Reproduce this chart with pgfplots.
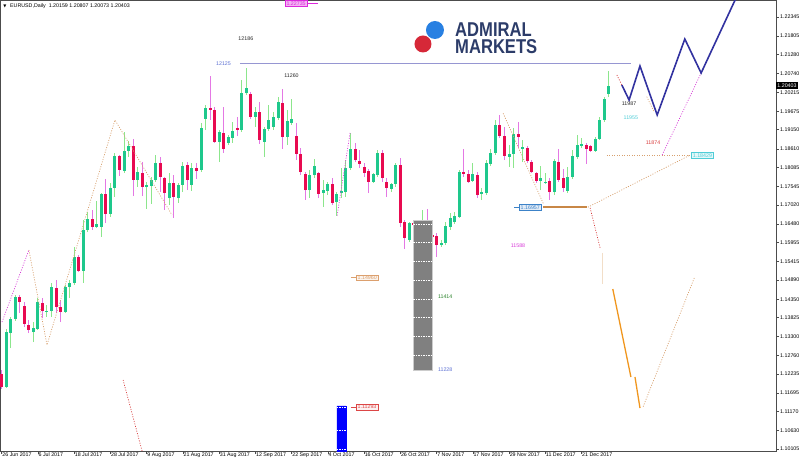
\documentclass[border=0pt]{standalone}
\usepackage{fontspec}
\setmainfont{Liberation Sans}
\newfontfamily\dejavu{DejaVu Sans}
\usepackage{pgfplots}
\pgfplotsset{compat=1.18}
\usepackage{pgfplotstable}

\definecolor{bullbody}{RGB}{30,200,140}
\definecolor{bullwick}{RGB}{140,230,140}
\definecolor{bearbody}{RGB}{232,10,80}
\definecolor{bearwick}{RGB}{228,120,228}
\definecolor{lineblue}{RGB}{150,150,210}
\definecolor{navyz}{RGB}{50,50,160}
\definecolor{peruL}{RGB}{200,135,70}
\definecolor{orangeL}{RGB}{240,150,30}
\definecolor{wheatL}{RGB}{242,222,200}
\definecolor{tanD}{RGB}{215,160,110}
\definecolor{redD}{RGB}{215,60,60}
\definecolor{magD}{RGB}{215,60,215}
\definecolor{logoblue}{RGB}{40,128,226}
\definecolor{logored}{RGB}{214,40,56}
\definecolor{logonavy}{RGB}{44,60,105}
\definecolor{lblblue}{RGB}{90,110,210}
\definecolor{lblgreen}{RGB}{40,130,40}
\definecolor{lblcyan}{RGB}{80,205,215}
\definecolor{boxblue}{RGB}{60,130,200}
\definecolor{boxtan}{RGB}{220,160,110}
\definecolor{boxred}{RGB}{220,70,70}
\definecolor{boxmag}{RGB}{220,40,220}

\newcommand\sm{\fontsize{5.3}{6}\selectfont}

% EURUSD daily candles, bar index n (0 = 26 Jun 2017)
\pgfplotstableread{
n o h l c
1 1.11864 1.13506 1.11835 1.13421
2 1.13393 1.13847 1.12968 1.13790
3 1.13790 1.14469 1.13733 1.14413
7 1.13421 1.13704 1.13138 1.13534
8 1.13506 1.14384 1.13478 1.14271
10 1.13988 1.14186 1.13847 1.14017
11 1.14017 1.14810 1.13847 1.14697
14 1.13988 1.14753 1.13960 1.14697
15 1.14697 1.14895 1.14384 1.14810
16 1.14810 1.15830 1.14753 1.15547
18 1.15150 1.16594 1.14810 1.16311
19 1.16311 1.16821 1.16254 1.16623
21 1.16396 1.17133 1.16367 1.16481
22 1.16396 1.17359 1.16113 1.17331
24 1.16765 1.17643 1.16680 1.17501
25 1.17501 1.18493 1.17246 1.18408
27 1.17983 1.19087 1.17926 1.18550
28 1.18550 1.18833 1.18380 1.18691
30 1.17728 1.18096 1.17530 1.17954
32 1.17530 1.17671 1.16906 1.17586
33 1.17558 1.17813 1.17048 1.17728
34 1.17728 1.18436 1.17671 1.18209
37 1.17217 1.17926 1.17019 1.17643
39 1.17217 1.17643 1.17076 1.17586
40 1.17586 1.18237 1.17387 1.18124
42 1.17586 1.18209 1.17416 1.18067
44 1.18011 1.19343 1.17954 1.19201
45 1.19456 1.19852 1.19144 1.19767
48 1.18804 1.19144 1.18237 1.19087
50 1.18776 1.19002 1.18719 1.18946
51 1.18917 1.19371 1.18776 1.19116
53 1.19144 1.20561 1.19087 1.20192
54 1.20192 1.20900 1.20135 1.20334
56 1.19513 1.19796 1.19230 1.19654
58 1.18804 1.19230 1.18380 1.19173
59 1.19173 1.19852 1.19116 1.19428
60 1.19230 1.19654 1.19144 1.19513
61 1.19484 1.20079 1.19428 1.19937
63 1.18946 1.19711 1.18719 1.19400
64 1.19343 1.20022 1.19286 1.19456
68 1.17444 1.18011 1.17217 1.17869
69 1.17869 1.18323 1.17784 1.18124
71 1.17359 1.17728 1.16963 1.17444
72 1.17416 1.17671 1.17302 1.17615
74 1.17104 1.17387 1.16708 1.17331
75 1.17359 1.18067 1.17217 1.17416
76 1.17387 1.18294 1.17246 1.18067
77 1.18067 1.19059 1.18011 1.18606
82 1.17671 1.17926 1.17643 1.17898
83 1.17869 1.18578 1.17813 1.18493
86 1.17473 1.17643 1.17387 1.17615
87 1.17615 1.18209 1.17530 1.18152
90 1.16028 1.16537 1.15971 1.16509
93 1.16226 1.16878 1.16169 1.16566
97 1.15886 1.16028 1.15830 1.15943
98 1.15943 1.16537 1.15886 1.16424
99 1.16396 1.16793 1.16311 1.16651
100 1.16537 1.16821 1.16481 1.16708
101 1.16680 1.18011 1.16651 1.17954
104 1.17700 1.18209 1.17671 1.17898
106 1.17331 1.17501 1.17161 1.17387
107 1.17359 1.18294 1.17302 1.18209
108 1.18181 1.18606 1.18124 1.18493
109 1.18493 1.19428 1.18436 1.19286
112 1.18380 1.18719 1.18096 1.18465
113 1.18465 1.19201 1.18067 1.19031
115 1.18606 1.18861 1.18237 1.18663
119 1.17700 1.18124 1.17444 1.17784
120 1.17643 1.17926 1.17615 1.17671
122 1.17387 1.18323 1.17302 1.18266
125 1.17416 1.18096 1.17359 1.17813
126 1.17813 1.18578 1.17756 1.18408
127 1.18380 1.19002 1.18323 1.18719
128 1.18691 1.18917 1.18634 1.18748
131 1.18550 1.18946 1.18521 1.18889
132 1.18889 1.19513 1.18861 1.19428
133 1.19428 1.20079 1.19371 1.20022
134 1.20159 1.20807 1.20073 1.20403
}\bulltab

\pgfplotstableread{
n o h l c
0 1.12232 1.12345 1.11807 1.11864
4 1.14413 1.14469 1.13960 1.14271
5 1.14158 1.14271 1.13563 1.13648
6 1.13619 1.13761 1.13393 1.13478
9 1.14243 1.14384 1.13818 1.14017
12 1.14668 1.14895 1.13960 1.14130
13 1.14130 1.14328 1.13704 1.13988
17 1.15547 1.15603 1.15121 1.15150
20 1.16623 1.16878 1.16311 1.16396
23 1.17331 1.17756 1.16509 1.16765
26 1.18408 1.18436 1.17841 1.18011
29 1.18691 1.18889 1.17274 1.17728
31 1.17926 1.18237 1.17274 1.17530
35 1.18209 1.18380 1.17387 1.17813
36 1.17784 1.17813 1.16878 1.17359
38 1.17643 1.17869 1.16651 1.17246
41 1.18152 1.18237 1.17444 1.17728
43 1.18067 1.18209 1.17756 1.17983
46 1.19767 1.20674 1.19428 1.19711
47 1.19711 1.19796 1.18776 1.18804
49 1.19059 1.19796 1.18493 1.18606
52 1.19201 1.19513 1.18974 1.19144
55 1.20164 1.20220 1.19456 1.19513
57 1.19654 1.19937 1.18748 1.18861
62 1.19909 1.20306 1.18606 1.18946
65 1.18974 1.19343 1.18294 1.18465
66 1.18465 1.18634 1.17869 1.17954
67 1.17898 1.17954 1.17161 1.17444
70 1.17926 1.17954 1.17217 1.17331
73 1.17615 1.17784 1.17019 1.17076
78 1.18606 1.18776 1.18237 1.18294
79 1.18266 1.18578 1.18067 1.18181
80 1.18096 1.18209 1.17813 1.17926
81 1.17983 1.18039 1.17359 1.17671
84 1.18493 1.18578 1.17671 1.17784
85 1.17671 1.17784 1.17246 1.17501
88 1.18152 1.18351 1.16396 1.16509
89 1.16537 1.16594 1.15773 1.16084
91 1.16509 1.16537 1.16396 1.16452
92 1.16452 1.16509 1.16084 1.16226
94 1.16566 1.16906 1.16028 1.16113
95 1.16169 1.16226 1.16056 1.16113
96 1.16141 1.16226 1.15547 1.15886
102 1.17954 1.18606 1.17813 1.17898
103 1.17898 1.18011 1.17643 1.17671
105 1.17869 1.17954 1.17217 1.17302
110 1.19286 1.19569 1.18917 1.18974
111 1.18974 1.19230 1.18294 1.18408
114 1.19031 1.19371 1.18634 1.18946
116 1.18634 1.18691 1.18209 1.18266
117 1.18237 1.18294 1.17926 1.17954
118 1.17926 1.17954 1.17643 1.17700
121 1.17700 1.17784 1.17161 1.17387
123 1.18237 1.18606 1.17671 1.17728
124 1.17784 1.18039 1.17387 1.17501
129 1.18719 1.18776 1.18181 1.18606
130 1.18691 1.18719 1.18521 1.18550
}\beartab

\begin{document}
\begin{tikzpicture}
\useasboundingbox (0,-10pt) rectangle (800pt,451pt);
\begin{axis}[
    at={(0,0)}, anchor=south west,
    scale only axis, width=776pt, height=451pt,
    xmin=-0.375, xmax=170.93,
    ymin=1.1005, ymax=1.22827,
    axis line style={draw=black!70, line width=0.8pt},
    tick align=outside, major tick length=3pt,
    tick style={draw=black!70, line width=0.6pt},
    xtick pos=left, ytick pos=right,
    xtick={0,8,...,128},
    xticklabels={26 Jun 2017,6 Jul 2017,18 Jul 2017,28 Jul 2017,9 Aug 2017,21 Aug 2017,31 Aug 2017,12 Sep 2017,22 Sep 2017,4 Oct 2017,16 Oct 2017,26 Oct 2017,7 Nov 2017,17 Nov 2017,29 Nov 2017,11 Dec 2017,21 Dec 2017},
    xticklabel style={anchor=north west, xshift=0.5pt, yshift=2.5pt, inner xsep=0pt, inner ysep=1pt, font=\sm},
    ytick={1.22345,1.21805,1.21280,1.20740,1.20215,1.19675,1.19150,1.18610,1.18085,1.17545,1.17020,1.16480,1.15955,1.15415,1.14890,1.14350,1.13825,1.13300,1.12760,1.12235,1.11695,1.11170,1.10630,1.10105},
    yticklabels={1.22345,1.21805,1.21280,1.20740,1.20215,1.19675,1.19150,1.18610,1.18085,1.17545,1.17020,1.16480,1.15955,1.15415,1.14890,1.14350,1.13825,1.13300,1.12760,1.12235,1.11695,1.11170,1.10630,1.10105},
    yticklabel pos=right,
    yticklabel style={font=\sm, inner xsep=1pt},
]

% wicks
\addplot[draw=none, mark=none, error bars/.cd, y dir=plus, y explicit, error mark=none,
    error bar style={draw=bullwick, solid, line width=1pt}]
    table[x=n, y=l, y error plus expr=\thisrow{h}-\thisrow{l}] {\bulltab};
\addplot[draw=none, mark=none, error bars/.cd, y dir=plus, y explicit, error mark=none,
    error bar style={draw=bearwick, solid, line width=1pt}]
    table[x=n, y=l, y error plus expr=\thisrow{h}-\thisrow{l}] {\beartab};
% bodies
\addplot[draw=none, mark=none, error bars/.cd, y dir=plus, y explicit, error mark=none,
    error bar style={draw=bullbody, solid, line width=3pt}]
    table[x=n, y=o, y error plus expr=\thisrow{c}-\thisrow{o}] {\bulltab};
\addplot[draw=none, mark=none, error bars/.cd, y dir=plus, y explicit, error mark=none,
    error bar style={draw=bearbody, solid, line width=3pt}]
    table[x=n, y=c, y error plus expr=\thisrow{o}-\thisrow{c}] {\beartab};

% rectangles
\addplot[fill=black!50, draw=black!20] coordinates {(90.8,1.16594) (95.0,1.16594) (95.0,1.12345) (90.8,1.12345) (90.8,1.16594)};
\pgfplotsinvokeforeach{1.16480,1.15955,1.15415,1.14890,1.14350,1.13825,1.13300,1.12760}{
  \addplot[white, dash pattern=on 1.5pt off 1pt, line width=0.6pt] coordinates {(90.8,#1) (95.0,#1)};
}
\addplot[fill=blue, draw=blue] coordinates {(74.0,1.11325) (76.0,1.11325) (76.0,1.0990) (74.0,1.0990) (74.0,1.11325)};
\pgfplotsinvokeforeach{1.11300,1.10630,1.10105}{
  \addplot[white, dash pattern=on 1.5pt off 1pt, line width=0.6pt] coordinates {(74.0,#1) (76.0,#1)};
}

% horizontal resistance
\addplot[draw=lineblue, line width=0.9pt] coordinates {(52.6,1.21042) (138.9,1.21042)};

% dotted waves
\addplot[draw=tanD, line width=0.7pt, dash pattern=on 1pt off 1.5pt] coordinates {(6.0,1.15745) (10.0,1.13053) (25.0,1.19428) (37.6,1.16736)};
\addplot[draw=magD, line width=0.7pt, dash pattern=on 1pt off 1.5pt] coordinates {(0.07,1.13704) (6.0,1.15745)};
\addplot[draw=redD, line width=0.7pt, dash pattern=on 1pt off 1.5pt] coordinates {(26.8,1.12062) (31.2,1.0995)};
\addplot[draw=magD, line width=0.7pt, dash pattern=on 1pt off 1.5pt] coordinates {(76.9,1.19059) (74.0,1.16680)};
\addplot[draw=tanD, line width=0.7pt, dash pattern=on 1pt off 1.5pt] coordinates {(110.7,1.19617) (119.6,1.1705)};
\addplot[draw=tanD, line width=0.7pt, dash pattern=on 1pt off 1.5pt] coordinates {(129.4,1.16957) (151.9,1.18429)};
\addplot[draw=tanD, line width=0.7pt, dash pattern=on 1pt off 1.5pt] coordinates {(133.6,1.18429) (151.9,1.18429)};
\addplot[draw=redD, line width=0.7pt, dash pattern=on 1pt off 1.5pt] coordinates {(129.9,1.16935) (132.1,1.15802)};
\addplot[draw=redD, line width=0.7pt, dash pattern=on 1pt off 1.5pt] coordinates {(135.8,1.20703) (136.9,1.20419)};
\addplot[draw=tanD, line width=0.7pt, dash pattern=on 1pt off 1.5pt] coordinates {(142.4,1.20088) (144.0,1.19663)};
\addplot[draw=magD, line width=0.7pt, dash pattern=on 1pt off 1.5pt] coordinates {(145.8,1.18436) (154.4,1.20759)};
\addplot[draw=tanD, line width=0.7pt, dash pattern=on 1pt off 1.5pt] coordinates {(141.6,1.11305) (153.0,1.14988)};

% projected paths
\addplot[draw=peruL, line width=2.6pt] coordinates {(119.5,1.16957) (129.2,1.16957)};
\addplot[draw=wheatL, line width=1pt] coordinates {(132.7,1.15660) (132.7,1.14782)};
\addplot[draw=orangeL, line width=1.3pt] coordinates {(134.9,1.14639) (138.9,1.12147)};
\addplot[draw=orangeL, line width=1.3pt] coordinates {(139.8,1.12147) (140.9,1.11268)};
\addplot[draw=navyz, line width=1.6pt] coordinates {(136.9,1.20419) (138.5,1.19994) (140.9,1.20957) (144.7,1.19569) (150.8,1.21722) (154.4,1.20759) (163.0,1.23130)};

% price labels
\addplot[draw=boxmag, line width=0.6pt] coordinates {(67.5,1.22728) (69.8,1.22728)};
\addplot[draw=boxtan, line width=0.6pt] coordinates {(77.1,1.14960) (78.2,1.14960)};
\addplot[draw=boxred, line width=0.6pt] coordinates {(77.1,1.11293) (78.2,1.11293)};
\addplot[draw=boxblue, line width=0.6pt] coordinates {(113.1,1.16957) (114.2,1.16957)};
\node[anchor=west, draw=boxmag, fill=boxmag!35, text=boxmag, inner xsep=1.5pt, inner ysep=1pt, font=\sm] at (axis cs:62.5,1.22728) {1.22735};
\node[anchor=west, draw=boxtan, fill=boxtan!12, text=boxtan, inner xsep=1.5pt, inner ysep=1pt, font=\sm] at (axis cs:78.2,1.14960) {1.14960};
\node[anchor=west, draw=boxred, fill=boxred!8, text=boxred, inner xsep=1.5pt, inner ysep=1pt, font=\sm] at (axis cs:78.2,1.11293) {1.11293};
\node[anchor=west, draw=boxblue, fill=boxblue!15, text=boxblue, inner xsep=1.5pt, inner ysep=1pt, font=\sm] at (axis cs:114.2,1.16957) {1.16957};
\node[anchor=west, draw=lblcyan, fill=lblcyan!15, text=lblcyan, inner xsep=1.5pt, inner ysep=1pt, font=\sm] at (axis cs:152.2,1.18429) {1.18429};

% wave labels
\node[font=\sm, text=black!85] at (axis cs:53.9,1.21722) {12186};
\node[font=\sm, text=lblblue] at (axis cs:48.96,1.21014) {12125};
\node[font=\sm, text=black!85] at (axis cs:63.97,1.20674) {11260};
\node[font=\sm, text=lblgreen] at (axis cs:97.9,1.14413) {11414};
\node[font=\sm, text=lblblue] at (axis cs:97.9,1.12345) {11228};
\node[font=\sm, text=magD] at (axis cs:113.98,1.15858) {11588};
\node[font=\sm, text=black!85] at (axis cs:138.5,1.19881) {11987};
\node[font=\sm, text=lblcyan] at (axis cs:138.9,1.19484) {11955};
\node[font=\sm, text=redD] at (axis cs:143.8,1.18776) {11874};

% header
\node[anchor=west, inner sep=0pt, font=\dejavu\fontsize{4}{5}\selectfont] at (axis cs:0.35,1.22657) {\char"25BC};
\node[anchor=west, inner sep=0pt, font=\sm] at (axis cs:1.83,1.22657) {EURUSD,Daily\ \ 1.20159 1.20807 1.20073 1.20403};

% logo
\fill[logoblue] (axis cs:95.65,1.21977) circle[radius=9pt];
\fill[logored] (axis cs:93.0,1.21581) circle[radius=8.5pt];
\node[anchor=north west, align=left, inner sep=0pt, text=logonavy, font=\bfseries\fontsize{20}{16.5}\selectfont]
    at (axis cs:100.07,1.22176) {\scalebox{0.83}[1]{ADMIRAL}\\\scalebox{0.83}[1]{MARKETS}};

\coordinate (cp) at (axis cs:170.93,1.20403);
\end{axis}
\node[anchor=west, fill=black, text=white, inner xsep=1pt, inner ysep=1.2pt, font=\sm] at ([xshift=0.2pt]cp) {1.20403};
\end{tikzpicture}
\end{document}
